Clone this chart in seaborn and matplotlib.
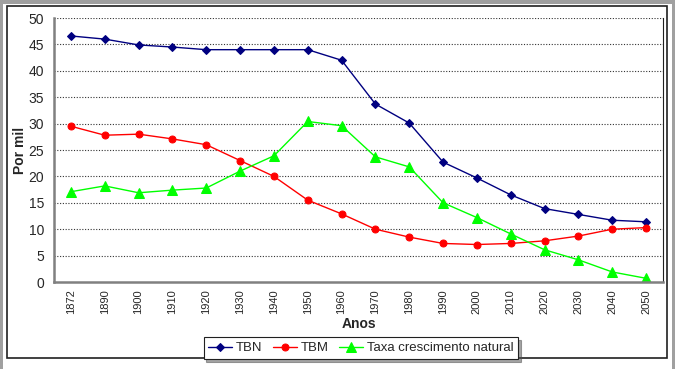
import numpy as np
import pandas as pd
import matplotlib
matplotlib.use("Agg")
import matplotlib.pyplot as plt
import seaborn as sns
from matplotlib.patches import Rectangle
from matplotlib.ticker import FixedLocator, NullFormatter

# ---------------------------------------------------
# Dados
# ---------------------------------------------------
anos = ["1872", "1890", "1900", "1910", "1920", "1930", "1940", "1950", "1960",
        "1970", "1980", "1990", "2000", "2010", "2020", "2030", "2040", "2050"]
tbn = [46.6, 46.0, 44.9, 44.5, 44.0, 44.0, 44.0, 44.0, 42.0,
       33.7, 30.1, 22.7, 19.7, 16.5, 13.9, 12.8, 11.7, 11.4]
tbm = [29.5, 27.8, 28.0, 27.1, 26.0, 23.0, 20.0, 15.5, 12.9,
       10.0, 8.5, 7.3, 7.1, 7.3, 7.8, 8.7, 10.0, 10.3]
taxa = [17.1, 18.2, 16.9, 17.4, 17.8, 21.0, 23.9, 30.4, 29.6,
        23.7, 21.8, 15.0, 12.2, 9.1, 6.1, 4.2, 1.9, 0.7]

sns.set_style("white")
plt.rcParams["font.family"] = ["Liberation Sans", "DejaVu Sans"]

fig = plt.figure(figsize=(6.75, 3.69), dpi=100)
fig.patch.set_facecolor("white")
W, H = 675, 369

# moldura cinza + caixa do gráfico (estilo Excel)
fig.add_artist(Rectangle((0, 1 - 4 / H), 1, 4 / H, transform=fig.transFigure,
                         facecolor="#a0a0a0", edgecolor="none", zorder=-2))
fig.add_artist(Rectangle((0, 0), 3 / W, 1, transform=fig.transFigure,
                         facecolor="#a0a0a0", edgecolor="none", zorder=-2))
fig.add_artist(Rectangle((1 - 3 / W, 0), 3 / W, 1, transform=fig.transFigure,
                         facecolor="#a0a0a0", edgecolor="none", zorder=-2))
fig.add_artist(Rectangle((7 / W, 1 - 358 / H), 660 / W, 352 / H, transform=fig.transFigure,
                         facecolor="white", edgecolor="#202020", linewidth=1.2, zorder=-1))

ax = fig.add_axes([54 / W, 1 - 282 / H, (663 - 54) / W, (282 - 18) / H])
ax.set_facecolor("white")

x = np.arange(len(anos))
sns.lineplot(x=x, y=tbn, ax=ax, color="#000080", marker="D", markersize=4.5,
             markeredgecolor="#000080", linewidth=1, label="TBN")
sns.lineplot(x=x, y=tbm, ax=ax, color="#ff0000", marker="o", markersize=5,
             markeredgecolor="#ff0000", linewidth=1, label="TBM")
sns.lineplot(x=x, y=taxa, ax=ax, color="#00ff00", marker="^", markersize=6.5,
             markeredgecolor="#00ff00", linewidth=1, label="Taxa crescimento natural")

ax.set_xlim(-0.5, len(anos) - 0.5)
ax.set_ylim(0, 50)
ax.set_yticks(np.arange(0, 51, 5))
for v in np.arange(5, 51, 5):
    ax.axhline(v, color="#333333", linestyle=(0, (1, 1.5)), linewidth=0.8, zorder=0)

ax.set_xticks(x)
ax.set_xticklabels(anos, rotation=90, fontsize=8)
ax.xaxis.set_minor_locator(FixedLocator(np.arange(-0.5, len(anos), 1)))
ax.xaxis.set_minor_formatter(NullFormatter())
ax.tick_params(axis="x", which="major", length=0, pad=5)
ax.tick_params(axis="x", which="minor", length=4, color="#808080", width=1.2, direction="out")
ax.tick_params(axis="y", length=4, color="#808080", width=1.2, direction="out", labelsize=10, pad=3)

for s in ["left", "bottom"]:
    ax.spines[s].set_color("#808080")
    ax.spines[s].set_linewidth(1.8)
ax.spines["right"].set_color("#202020")
ax.spines["right"].set_linewidth(0.8)
ax.spines["top"].set_visible(False)

ax.set_ylabel("Por mil", fontsize=10, fontweight="bold", labelpad=1)
ax.set_xlabel("Anos", fontsize=10, fontweight="bold", labelpad=2)

ax.legend_.remove()
h, l = ax.get_legend_handles_labels()
leg = fig.legend(h, l, loc="center", bbox_to_anchor=(361 / W, 1 - 348 / H), ncol=3,
                 fontsize=9.5, frameon=True, fancybox=False, shadow=True,
                 handlelength=1.8, columnspacing=0.8, handletextpad=0.3,
                 borderpad=0.35)
leg.get_frame().set_edgecolor("#202020")
leg.get_frame().set_linewidth(0.8)

fig.savefig("out.png", dpi=100)
